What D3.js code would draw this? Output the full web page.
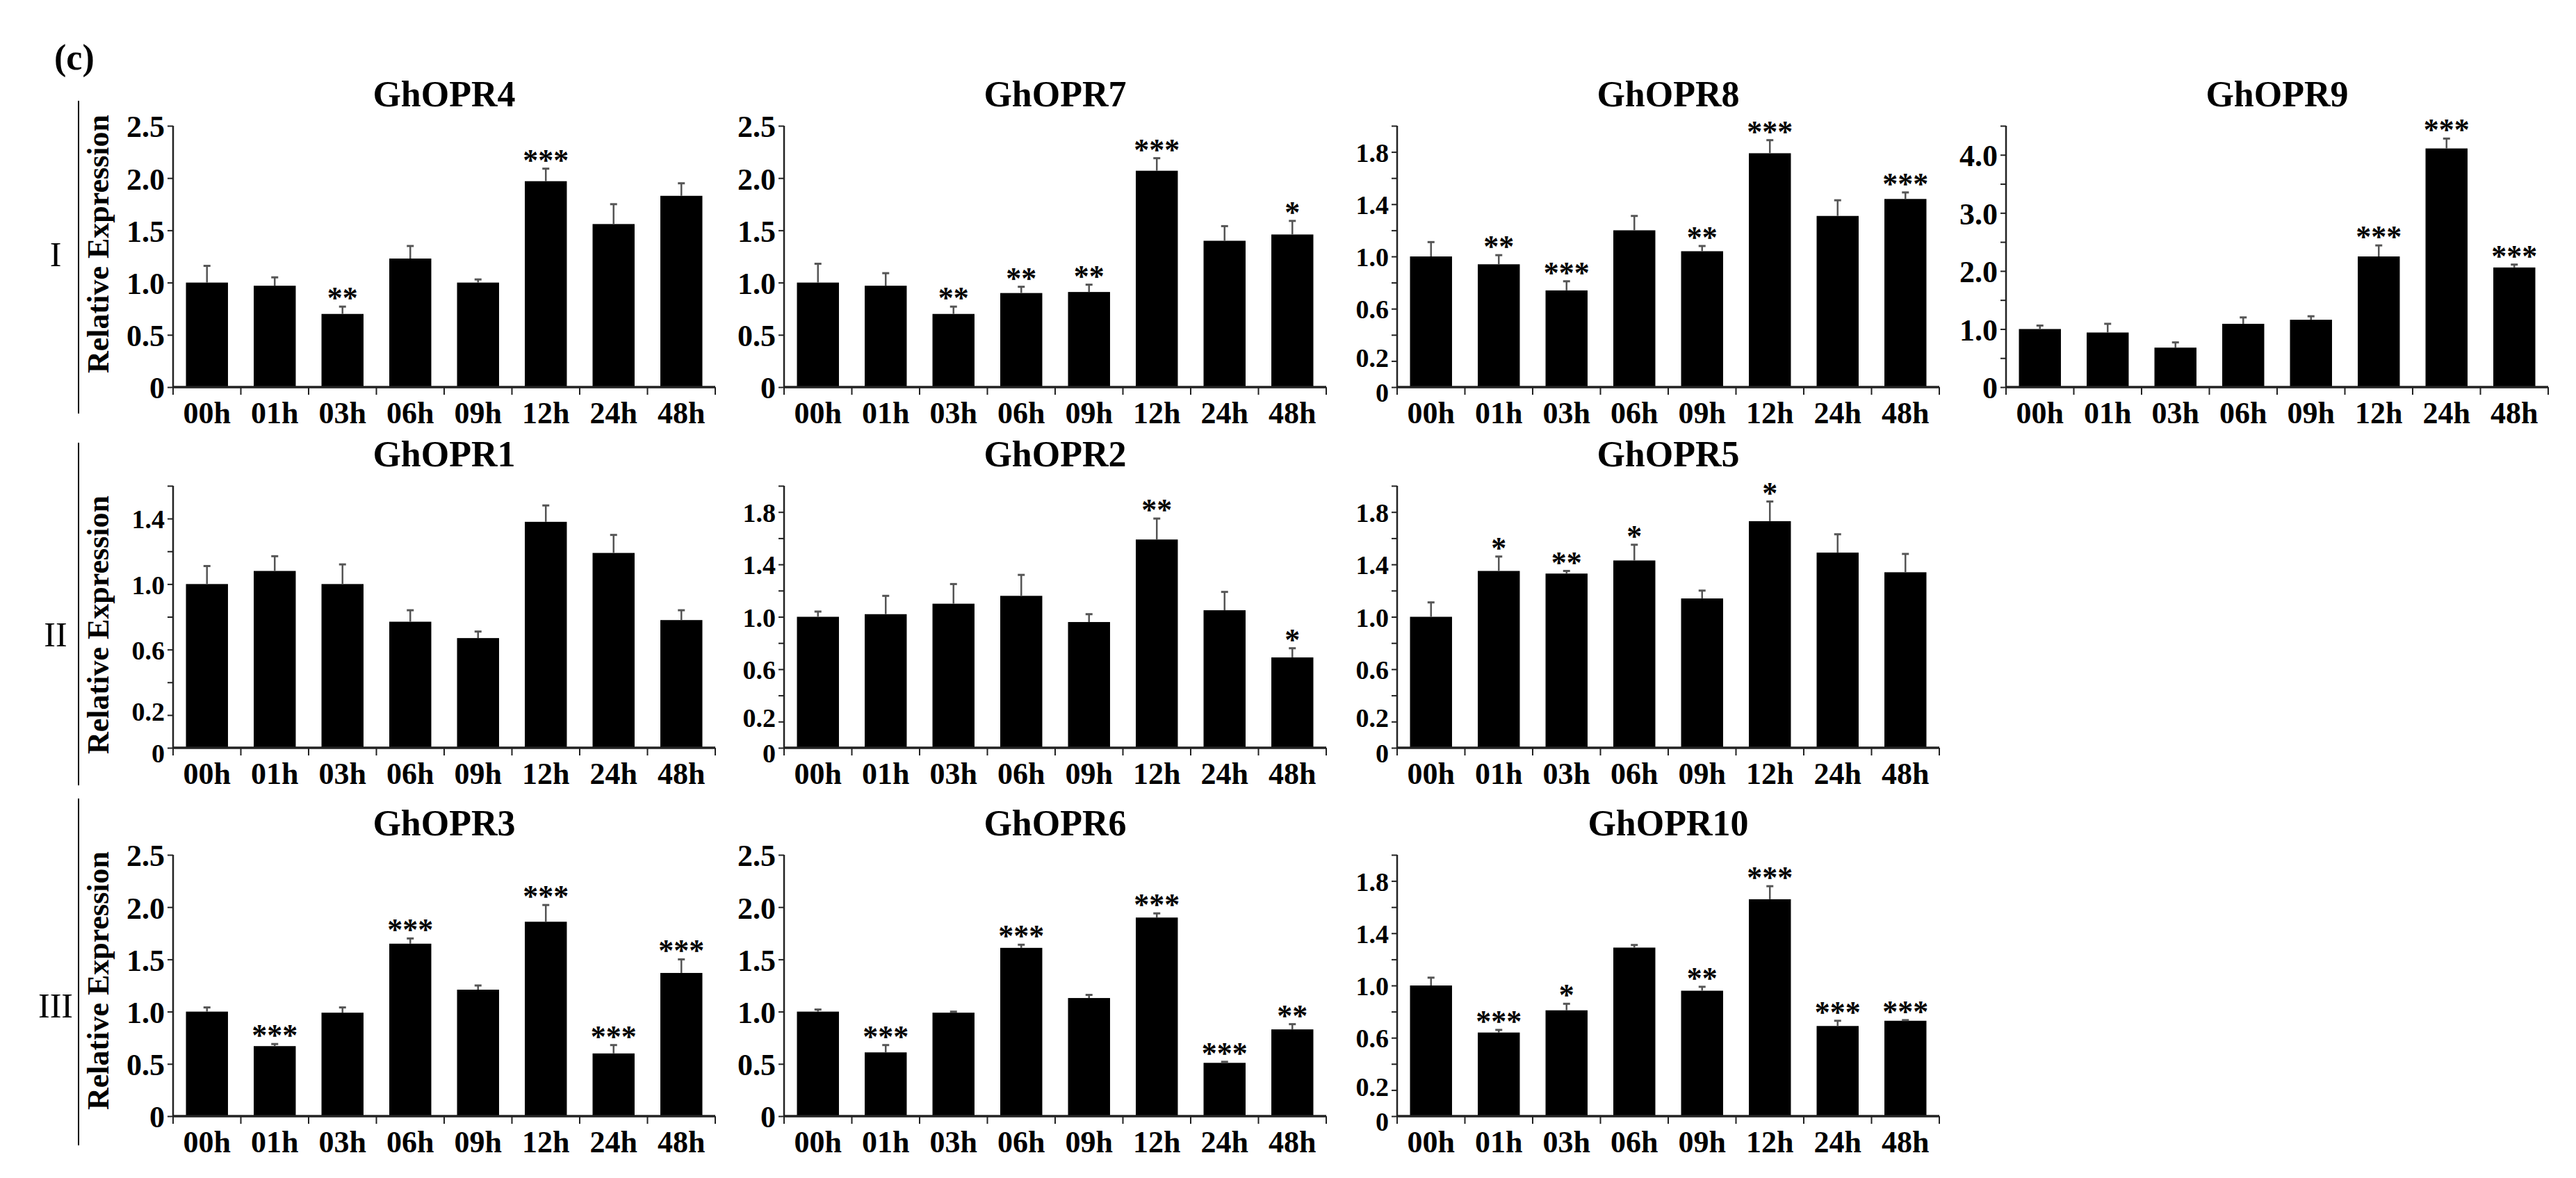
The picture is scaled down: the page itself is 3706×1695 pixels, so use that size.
<!DOCTYPE html>
<html><head><meta charset="utf-8">
<script src="https://cdn.jsdelivr.net/npm/d3@7"></script>
<style>body{margin:0;background:#fff}svg{display:block}text{font-family:"Liberation Serif","Times New Roman",serif}</style>
</head><body>
<svg id="c" width="3706" height="1695"></svg>
<script>
const categories = ["00h","01h","03h","06h","09h","12h","24h","48h"];
const genes = ["GhOPR4","GhOPR7","GhOPR8","GhOPR9","GhOPR1","GhOPR2","GhOPR5","GhOPR3","GhOPR6","GhOPR10"];
const groupLabels = ["I","II","III"];

const vOPR4 = [1.0,0.97,0.70,1.23,1.0,1.97,1.56,1.83];
const eOPR4 = [0.16,0.08,0.07,0.12,0.03,0.12,0.19,0.12];
const sOPR4 = ["","","**","","","***","",""];
const vOPR7 = [1.0,0.97,0.70,0.90,0.91,2.07,1.40,1.46];
const eOPR7 = [0.18,0.12,0.07,0.06,0.07,0.12,0.14,0.13];
const sOPR7 = ["","","**","**","**","***","","*"];
const vOPR8 = [1.0,0.94,0.74,1.20,1.04,1.79,1.31,1.44];
const eOPR8 = [0.11,0.07,0.07,0.11,0.04,0.10,0.12,0.05];
const sOPR8 = ["","**","***","","**","***","","***"];
const vOPR9 = [1.0,0.94,0.68,1.09,1.16,2.25,4.11,2.06];
const eOPR9 = [0.06,0.15,0.09,0.11,0.06,0.19,0.17,0.05];
const sOPR9 = ["","","","","","***","***","***"];
const vOPR1 = [1.0,1.08,1.0,0.77,0.67,1.38,1.19,0.78];
const eOPR1 = [0.11,0.09,0.12,0.07,0.04,0.10,0.11,0.06];
const sOPR1 = ["","","","","","","",""];
const vOPR2 = [1.0,1.02,1.10,1.16,0.96,1.59,1.05,0.69];
const eOPR2 = [0.04,0.14,0.15,0.16,0.06,0.16,0.14,0.07];
const sOPR2 = ["","","","","","**","","*"];
const vOPR5 = [1.0,1.35,1.33,1.43,1.14,1.73,1.49,1.34];
const eOPR5 = [0.11,0.11,0.02,0.12,0.06,0.15,0.14,0.14];
const sOPR5 = ["","*","**","*","","*","",""];
const vOPR3 = [1.0,0.67,0.99,1.65,1.21,1.86,0.60,1.37];
const eOPR3 = [0.04,0.02,0.05,0.05,0.04,0.16,0.08,0.13];
const sOPR3 = ["","***","","***","","***","***","***"];
const vOPR6 = [1.0,0.61,0.99,1.61,1.13,1.90,0.51,0.83];
const eOPR6 = [0.02,0.07,0.01,0.03,0.03,0.04,0.01,0.05];
const sOPR6 = ["","***","","***","","***","***","**"];
const vOPR10 = [1.0,0.64,0.81,1.29,0.96,1.66,0.69,0.73];
const eOPR10 = [0.06,0.02,0.05,0.02,0.03,0.10,0.04,0.005];
const sOPR10 = ["","***","*","","**","***","***","***"];

const ticks25 = [0,0.5,1.0,1.5,2.0,2.5];
const ticks20 = [0,0.2,0.6,1.0,1.4,1.8];
const ticks16 = [0,0.2,0.6,1.0,1.4];
const ticks45 = [0,1.0,2.0,3.0,4.0];

const values = [vOPR4,vOPR7,vOPR8,vOPR9,vOPR1,vOPR2,vOPR5,vOPR3,vOPR6,vOPR10];
const errors = [eOPR4,eOPR7,eOPR8,eOPR9,eOPR1,eOPR2,eOPR5,eOPR3,eOPR6,eOPR10];
const stars  = [sOPR4,sOPR7,sOPR8,sOPR9,sOPR1,sOPR2,sOPR5,sOPR3,sOPR6,sOPR10];
const yMax   = [2.5,2.5,2.0,4.5,1.6,2.0,2.0,2.5,2.5,2.0];
const labels = [ticks25,ticks25,ticks20,ticks45,ticks16,ticks20,ticks20,ticks25,ticks25,ticks20];
const minorStep = [0.5,0.5,0.2,0.5,0.2,0.2,0.2,0.5,0.5,0.2];

const colX = [249,1128,2010,2886], plotW = 780;
const rowZero = [557,1076,1606], rowTop = [181,699,1230];
const cells = [[0,0],[0,1],[0,2],[0,3],[1,0],[1,1],[1,2],[2,0],[2,1],[2,2]];

const svg = d3.select("#c");
const axisCol = "#222";

svg.append("text").attr("x",78).attr("y",100).attr("font-size",52).attr("font-weight","bold").text("(c)");

const sep = [[145,595],[637,1130],[1149,1648]];
const rowLabelY = [367,914,1448];
const relY = [351,899,1411];
groupLabels.forEach((g,i)=>{
  svg.append("line").attr("x1",113).attr("x2",113).attr("y1",sep[i][0]).attr("y2",sep[i][1]).attr("stroke","#000").attr("stroke-width",2);
  svg.append("text").attr("x",80).attr("y",rowLabelY[i]+16).attr("text-anchor","middle").attr("font-size",50).text(g);
  svg.append("text").attr("transform",`translate(156,${relY[i]}) rotate(-90)`).attr("text-anchor","middle")
    .attr("font-size",44).attr("font-weight","bold").text("Relative Expression");
});

genes.forEach((gene,gi)=>{
  const [r,c] = cells[gi];
  const x0 = colX[c], y0 = rowZero[r], y1 = rowTop[r];
  const x = d3.scaleBand().domain(categories).range([x0,x0+plotW]).paddingInner(0.38).paddingOuter(0.19);
  const y = d3.scaleLinear().domain([0,yMax[gi]]).range([y0,y1]);
  const g = svg.append("g");
  g.append("text").attr("x",x0+plotW/2).attr("y",y1-28).attr("text-anchor","middle")
    .attr("font-size",52).attr("font-weight","bold").text(gene);
  g.selectAll("rect.b").data(values[gi]).join("rect")
    .attr("x",(d,i)=>x(categories[i])).attr("width",x.bandwidth())
    .attr("y",d=>y(d)).attr("height",d=>y0-y(d)).attr("fill","#000");
  const eb = g.selectAll("g.e").data(values[gi]).join("g");
  eb.append("line").attr("x1",(d,i)=>x(categories[i])+x.bandwidth()/2).attr("x2",(d,i)=>x(categories[i])+x.bandwidth()/2)
    .attr("y1",d=>y(d)).attr("y2",(d,i)=>y(d+errors[gi][i])).attr("stroke","#555").attr("stroke-width",2.5);
  eb.append("line").attr("x1",(d,i)=>x(categories[i])+x.bandwidth()/2-5).attr("x2",(d,i)=>x(categories[i])+x.bandwidth()/2+5)
    .attr("y1",(d,i)=>y(d+errors[gi][i])).attr("y2",(d,i)=>y(d+errors[gi][i])).attr("stroke","#555").attr("stroke-width",3);
  g.selectAll("text.s").data(values[gi]).join("text")
    .attr("x",(d,i)=>x(categories[i])+x.bandwidth()/2).attr("y",(d,i)=>y(d+errors[gi][i])+2)
    .attr("text-anchor","middle").attr("font-size",44).attr("font-weight","bold").text((d,i)=>stars[gi][i]);
  const minor = d3.range(0,yMax[gi]+1e-9,minorStep[gi]);
  const small = minorStep[gi] < 0.3;
  const ya = d3.axisLeft(y).tickValues(minor).tickSize(8).tickFormat(d=>{
    const L = labels[gi].find(v=>Math.abs(v-d)<1e-6);
    return L===undefined ? "" : (L===0 ? "0" : d3.format(".1f")(L));
  });
  const yg = g.append("g").attr("transform",`translate(${x0},0)`).call(ya);
  yg.select(".domain").attr("d",`M0,${y0}V${y1}`).attr("stroke",axisCol).attr("stroke-width",2.5);
  yg.selectAll(".tick line").attr("stroke",axisCol).attr("stroke-width",2);
  yg.selectAll(".tick text").attr("font-size",small?38:44).attr("font-weight","bold").attr("fill","#000")
    .attr("font-family","Liberation Serif").attr("x",-12)
    .attr("dy",d=> small && d===0 ? "0.55em" : (small && Math.abs(d-0.2)<1e-6 ? "0.2em" : "0.36em"));
  const xa = d3.axisBottom(x).tickSize(0).tickPadding(12);
  const xg = g.append("g").attr("transform",`translate(0,${y0})`).call(xa);
  xg.select(".domain").attr("d",`M${x0},0H${x0+plotW}`).attr("stroke",axisCol).attr("stroke-width",3.5);
  xg.selectAll(".tick text").attr("font-size",44).attr("font-weight","bold").attr("fill","#000").attr("font-family","Liberation Serif").attr("dy","0.9em");
  const bounds = d3.range(0,9).map(i=>x0+i*plotW/8);
  xg.selectAll("line.bt").data(bounds).join("line").attr("x1",d=>d).attr("x2",d=>d).attr("y1",0).attr("y2",11)
    .attr("stroke",axisCol).attr("stroke-width",2);
});
</script>
</body></html>
